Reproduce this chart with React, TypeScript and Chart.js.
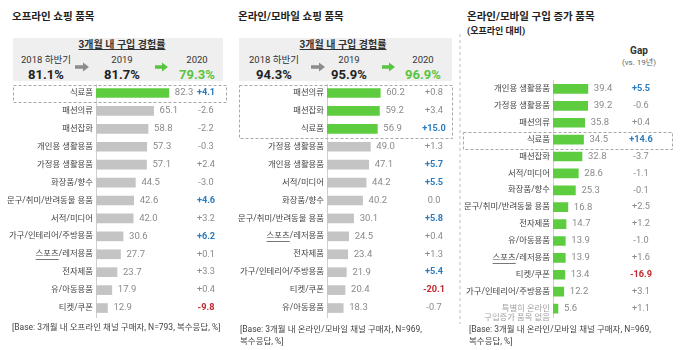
import React, { useEffect, useRef } from "react";
import { Chart, registerables } from "chart.js";

Chart.register(...registerables);

// ---------- DATA ----------
const periods = ["2018 하반기", "2019", "2020"];
const offlineRates = [81.1, 81.7, 79.3];
const onlineRates = [94.3, 95.9, 96.9];

const offlineCategories = [
  "식료품", "패션의류", "패션잡화", "개인용 생활용품", "가정용 생활용품", "화장품/향수",
  "문구/취미/반려동물 용품", "서적/미디어", "가구/인테리어/주방용품", "스포츠/레저용품",
  "전자제품", "유/아동용품", "티켓/쿠폰",
];
const offlineValues = [82.3, 65.1, 58.8, 57.3, 57.1, 44.5, 42.6, 42.0, 30.6, 27.7, 23.7, 17.9, 12.9];
const offlineGaps = [4.1, -2.6, -2.2, -0.3, 2.4, -3.0, 4.6, 3.2, 6.2, 0.1, 3.3, 0.4, -9.8];

const onlineCategories = [
  "패션의류", "패션잡화", "식료품", "가정용 생활용품", "개인용 생활용품", "서적/미디어",
  "화장품/향수", "문구/취미/반려동물 용품", "스포츠/레저용품", "전자제품",
  "가구/인테리어/주방용품", "티켓/쿠폰", "유/아동용품",
];
const onlineValues = [60.2, 59.2, 56.9, 49.0, 47.1, 44.2, 40.2, 30.1, 24.5, 23.4, 21.9, 20.4, 18.3];
const onlineGaps = [0.8, 3.4, 15.0, 1.3, 5.7, 5.5, 0.0, 5.8, 0.4, 1.3, 5.4, -20.1, -0.7];

const increaseCategories: (string | string[])[] = [
  "개인용 생활용품", "가정용 생활용품", "패션의류", "식료품", "패션잡화", "서적/미디어",
  "화장품/향수", "문구/취미/반려동물 용품", "전자제품", "유/아동용품", "스포츠/레저용품",
  "티켓/쿠폰", "가구/인테리어/주방용품", ["", "특별히 온라인", "구입증가 품목 없음"],
];
const increaseValues = [39.4, 39.2, 35.8, 34.5, 32.8, 28.6, 25.3, 16.8, 14.7, 13.9, 13.9, 13.4, 12.2, 5.6];
const increaseGaps = [5.5, -0.6, 0.4, 14.6, -3.7, -1.1, -0.1, 2.5, 1.2, -1.0, 1.6, -16.9, 3.1, 1.1];

// ---------- STYLE ----------
const GREEN = "#5dcd3f";
const GREEN_TEXT = "#58c540";
const GRAY_BAR = "#c4c4c4";
const BLUE = "#2b7bbd";
const RED = "#c0272d";
const PX_PER_UNIT = 0.885;
const FONT = "Roboto, 'Noto Sans CJK KR', sans-serif";
const LABEL_SIZE = 8.4;

const fmtGap = (g: number) => (g > 0 ? `+${g.toFixed(1)}` : g < 0 ? `-${Math.abs(g).toFixed(1)}` : "0.0");

type PanelCfg = {
  categories: (string | string[])[];
  values: number[];
  gaps: number[];
  greenRows: number;
  boxRows: [number, number];
  boxX: [number, number];
  x: number; y: number; w: number; h: number;
  axisW: number;
  gapX: number;
  mutedIndex?: number;
};

function makeAnnotPlugin(cfg: PanelCfg) {
  return {
    id: "annot",
    afterDatasetsDraw(chart: any) {
      const ctx: CanvasRenderingContext2D = chart.ctx;
      const meta = chart.getDatasetMeta(0);
      const ys = chart.scales.y;
      ctx.save();
      ctx.textBaseline = "middle";
      meta.data.forEach((bar: any, i: number) => {
        const { x, y } = bar.getProps(["x", "y"], true);
        ctx.font = `9.5px ${FONT}`;
        ctx.fillStyle = "#8a8a8a";
        ctx.textAlign = "left";
        ctx.fillText(cfg.values[i].toFixed(1), x + 6, y);
        const g = cfg.gaps[i];
        const hi = g >= 4 ? BLUE : g <= -4 ? RED : null;
        ctx.font = `${hi ? "bold " : ""}9.2px ${FONT}`;
        ctx.fillStyle = hi || "#8a8a8a";
        ctx.textAlign = "center";
        ctx.fillText(fmtGap(g), cfg.gapX, y);
      });
      // underline under "스포츠"
      const si = cfg.categories.indexOf("스포츠/레저용품");
      if (si >= 0) {
        ctx.font = `${LABEL_SIZE}px ${FONT}`;
        const right = chart.chartArea.left - 3;
        const full = ctx.measureText("스포츠/레저용품").width;
        const part = ctx.measureText("스포츠").width;
        const yy = Math.round(ys.getPixelForValue(si) + 5) + 0.5;
        ctx.strokeStyle = "#555";
        ctx.lineWidth = 0.8;
        ctx.beginPath();
        ctx.moveTo(right - full, yy);
        ctx.lineTo(right - full + part, yy);
        ctx.stroke();
      }
      // dashed highlight box
      const top = Math.round(ys.getPixelForValue(cfg.boxRows[0]) - 8) + 0.5;
      const bottom = Math.round(ys.getPixelForValue(cfg.boxRows[1]) + 9) + 0.5;
      ctx.setLineDash([3, 2]);
      ctx.strokeStyle = "#a8a8a8";
      ctx.lineWidth = 1;
      ctx.strokeRect(cfg.boxX[0] + 0.5, top, cfg.boxX[1] - cfg.boxX[0], bottom - top);
      ctx.restore();
    },
  };
}

function BarPanel({ cfg }: { cfg: PanelCfg }) {
  const ref = useRef<HTMLCanvasElement>(null);
  useEffect(() => {
    const xMax = (cfg.w - cfg.axisW) / PX_PER_UNIT;
    const chart = new Chart(ref.current!, {
      type: "bar",
      data: {
        labels: cfg.categories as any,
        datasets: [
          {
            data: cfg.values,
            backgroundColor: cfg.values.map((_, i) => (i < cfg.greenRows ? GREEN : GRAY_BAR)),
            barThickness: 9,
            borderWidth: 0,
          },
        ],
      },
      options: {
        indexAxis: "y",
        animation: false,
        responsive: false,
        maintainAspectRatio: false,
        layout: { padding: { top: 8, bottom: 8, left: 0, right: 0 } },
        plugins: { legend: { display: false }, tooltip: { enabled: false } },
        scales: {
          x: { display: false, min: 0, max: xMax },
          y: {
            grid: { display: false, drawTicks: false },
            border: { display: true, color: "#cfcfcf", width: 1 },
            ticks: {
              autoSkip: false,
              padding: 3,
              color: (c: any) => (c.index === cfg.mutedIndex ? "#a0a0a0" : "#444"),
              font: { family: FONT, size: LABEL_SIZE, lineHeight: 1.15 },
            },
            afterFit: (s: any) => {
              s.width = cfg.axisW;
            },
          },
        },
      },
      plugins: [makeAnnotPlugin(cfg)],
    });
    return () => chart.destroy();
  }, []);
  return (
    <canvas
      ref={ref}
      width={cfg.w}
      height={cfg.h}
      style={{ position: "absolute", left: cfg.x, top: cfg.y, width: cfg.w, height: cfg.h }}
    />
  );
}

const T = ({ x, y, align = "left", children, style }: any) => (
  <div
    style={{
      position: "absolute",
      left: x,
      top: y,
      transform: `translate(${align === "center" ? "-50%" : align === "right" ? "-100%" : "0"}, -50%)`,
      lineHeight: 1,
      whiteSpace: "nowrap",
      ...style,
    }}
  >
    {children}
  </div>
);

const Arrow = ({ x, y, w, color }: any) => (
  <svg style={{ position: "absolute", left: x, top: y - 5 }} width={w} height={10}>
    <polygon
      points={`0,3.3 ${w - 6},3.3 ${w - 6},0.5 ${w},5 ${w - 6},9.5 ${w - 6},6.7 0,6.7`}
      fill={color}
    />
  </svg>
);

function Header({ left, boxW, title, rates, centers, titleCx, arrows }: any) {
  return (
    <>
      <T x={left - 1} y={17} style={{ fontSize: 10.5, fontWeight: 700, color: "#222" }}>{title}</T>
      <div style={{ position: "absolute", left, top: 37.5, width: boxW, height: 43, background: "#efefef" }} />
      <T x={titleCx} y={45} align="center" style={{ fontSize: 10, fontWeight: 700, color: "#333", textDecoration: "underline" }}>
        3개월 내 구입 경험률
      </T>
      {periods.map((p, i) => (
        <T key={p} x={centers[i]} y={60} align="center" style={{ fontSize: 9.5, color: "#333" }}>{p}</T>
      ))}
      {rates.map((r: number, i: number) => (
        <T key={i} x={centers[i]} y={73.5} align="center"
          style={{ fontSize: 13, fontWeight: 700, color: i === 2 ? GREEN_TEXT : "#222" }}>
          {r.toFixed(1)}%
        </T>
      ))}
      <Arrow x={arrows[0]} y={67} w={14} color="#8c8c8c" />
      <Arrow x={arrows[1]} y={67} w={13} color={GREEN_TEXT} />
    </>
  );
}

const panel1: PanelCfg = {
  categories: offlineCategories, values: offlineValues, gaps: offlineGaps, greenRows: 1,
  boxRows: [0, 0], boxX: [13, 226], x: 0, y: 76, w: 230, h: 249, axisW: 96, gapX: 206,
};
const panel2: PanelCfg = {
  categories: onlineCategories, values: onlineValues, gaps: onlineGaps, greenRows: 3,
  boxRows: [0, 2], boxX: [9, 222], x: 230, y: 76, w: 229, h: 249, axisW: 97, gapX: 204,
};
const panel3: PanelCfg = {
  categories: increaseCategories, values: increaseValues, gaps: increaseGaps, greenRows: 14,
  boxRows: [3, 3], boxX: [3, 212], x: 460, y: 63, w: 220, h: 262, axisW: 93, gapX: 181, mutedIndex: 13,
};

const footStyle = { fontSize: 8.5, color: "#444" };

export default function App() {
  return (
    <div
      style={{
        position: "fixed", left: 0, top: 0, width: 680, height: 350, background: "#fff",
        fontFamily: FONT, overflow: "hidden",
      }}
    >
      <Header left={13} boxW={210} title="오프라인 쇼핑 품목" rates={offlineRates}
        centers={[46, 122, 197]} titleCx={122} arrows={[75, 155]} />
      <Header left={239} boxW={213} title="온라인/모바일 쇼핑 품목" rates={onlineRates}
        centers={[274, 349, 423]} titleCx={343} arrows={[311, 382]} />

      <svg style={{ position: "absolute", left: 459, top: 34 }} width={2} height={290}>
        <line x1={1} y1={0} x2={1} y2={290} stroke="#bdbdbd" strokeWidth={1} strokeDasharray="3,3" />
      </svg>

      <T x={467} y={17} style={{ fontSize: 10.5, fontWeight: 700, color: "#222" }}>온라인/모바일 구입 증가 품목</T>
      <T x={467} y={31} style={{ fontSize: 9, fontWeight: 700, color: "#222" }}>(오프라인 대비)</T>
      <T x={639} y={51} align="center" style={{ fontSize: 10, fontWeight: 700, color: "#333" }}>Gap</T>
      <T x={639} y={63} align="center" style={{ fontSize: 8, color: "#666" }}>(vs. 19년)</T>

      <BarPanel cfg={panel1} />
      <BarPanel cfg={panel2} />
      <BarPanel cfg={panel3} />

      <T x={12} y={327} style={footStyle}>
        [Base: 3개월 내 오프라인 채널 구매자, N=793, 복수응답, %]
      </T>
      <T x={240} y={329} style={footStyle}>
        [Base: 3개월 내 온라인/모바일 채널 구매자, N=969,
      </T>
      <T x={240} y={341} style={footStyle}>복수응답, %]</T>
      <T x={469} y={329} style={footStyle}>
        [Base: 3개월 내 온라인/모바일 채널 구매자, N=969,
      </T>
      <T x={469} y={341} style={footStyle}>복수응답, %]</T>
    </div>
  );
}
